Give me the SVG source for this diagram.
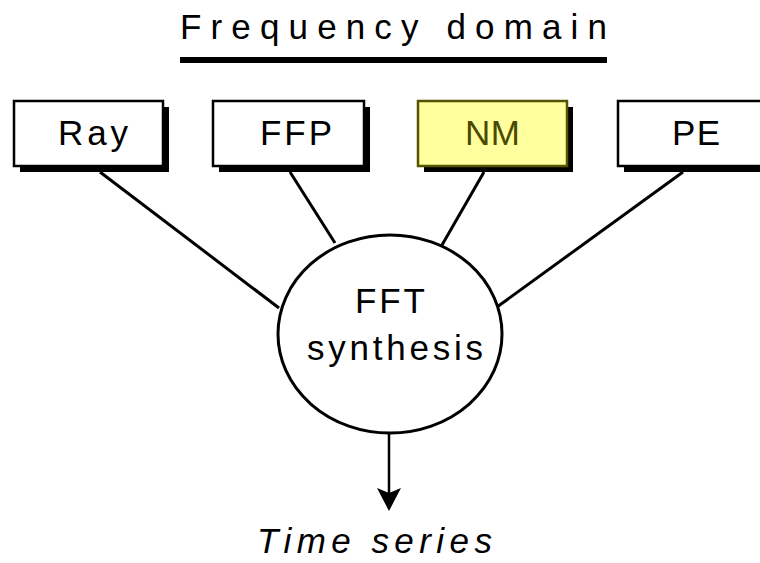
<svg xmlns="http://www.w3.org/2000/svg" width="760" height="563" viewBox="0 0 760 563">
<defs>
<style>
.shadow{fill:#000}
.box{fill:#fff;stroke:#000;stroke-width:2.5}
.nm{fill:#ffff9e;stroke:#555500;stroke-width:2.5}
.lbl{font-family:"Liberation Sans",Arial,sans-serif;font-size:35px;fill:#000}
.nmlbl{fill:#4a4a00}
.conn{stroke:#000;stroke-width:3;fill:none}
</style>
</defs>
<rect width="760" height="563" fill="#fff"/>
<g id="title">
<text class="lbl" x="180" y="39" font-size="38" textLength="427" lengthAdjust="spacing">Frequency domain</text>
<rect x="180" y="57" width="427" height="6" fill="#000"/>
</g>
<g id="connectors">
<line class="conn" x1="100" y1="172" x2="279" y2="308"/>
<line class="conn" x1="290" y1="172" x2="335" y2="243"/>
<line class="conn" x1="484" y1="172" x2="442" y2="245"/>
<line class="conn" x1="683" y1="172" x2="497" y2="307"/>
<line stroke="#000" stroke-width="2.5" x1="389" y1="434" x2="389" y2="495"/>
<path d="M377,488 L389,493 L401,488 L389,511 Z" fill="#000"/>
</g>
<g id="ray">
<rect class="shadow" x="20" y="107" width="149" height="65"/>
<rect class="box" x="14" y="101" width="149" height="65"/>
<text class="lbl" x="58" y="145" textLength="70" lengthAdjust="spacing">Ray</text>
</g>
<g id="ffp">
<rect class="shadow" x="219" y="107" width="151" height="65"/>
<rect class="box" x="213" y="101" width="151" height="65"/>
<text class="lbl" x="260" y="145" textLength="72" lengthAdjust="spacing">FFP</text>
</g>
<g id="nm">
<rect class="shadow" x="424" y="107" width="149" height="65"/>
<rect class="nm" x="418" y="101" width="149" height="65"/>
<text class="lbl nmlbl" x="465" y="145" textLength="55" lengthAdjust="spacing">NM</text>
</g>
<g id="pe">
<rect class="shadow" x="624" y="107" width="160" height="65"/>
<rect class="box" x="618" y="101" width="160" height="65"/>
<text class="lbl" x="672" y="145" textLength="48" lengthAdjust="spacing">PE</text>
</g>
<g id="fft">
<ellipse cx="390" cy="334" rx="112" ry="99" fill="#fff" stroke="#000" stroke-width="3"/>
<text class="lbl" x="355" y="313" font-size="33" textLength="70" lengthAdjust="spacing">FFT</text>
<text class="lbl" x="307" y="360" font-size="33" textLength="176" lengthAdjust="spacing">synthesis</text>
</g>
<g id="timeseries">
<text class="lbl" x="257" y="553" font-size="36" font-style="italic" textLength="235" lengthAdjust="spacing">Time series</text>
</g>
</svg>
